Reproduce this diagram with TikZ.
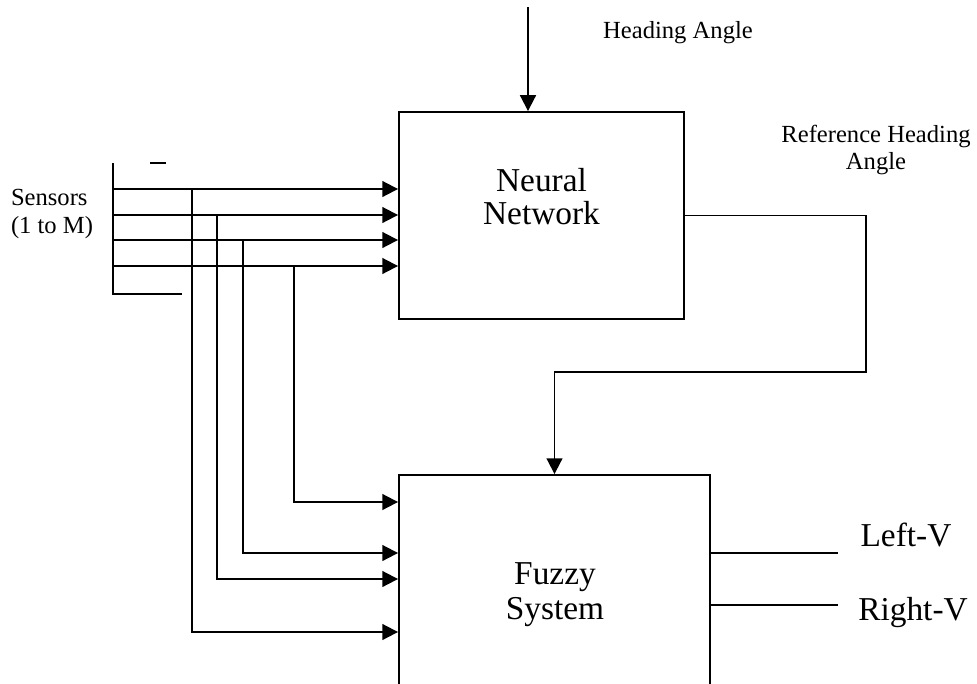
\documentclass[tikz,border=0pt]{standalone}
\usepackage{fontspec}
\setmainfont{Liberation Serif}
\usetikzlibrary{arrows.meta}

\tikzset{
	block/.style={draw, line width=1.1pt, rectangle, inner sep=0pt},
	wire/.style={line width=1.1pt},
	sig/.style={wire, -{Triangle[length=9pt,width=9pt]}},
	smalltxt/.style={font=\fontsize{14}{16}\selectfont, align=center, inner sep=0pt},
	bigtxt/.style={font=\fontsize{19}{19}\selectfont, align=center, inner sep=0pt}
}

\begin{document}
\begin{tikzpicture}[x=0.02cm, y=-0.02cm]

	\clip (0,0) rectangle (977,683);
	\useasboundingbox (0,0) rectangle (977,683);

	\node[block, minimum width=5.7cm, minimum height=4.14cm] (nn) at (541.5,215.5) {};
	\node[bigtxt] (nnlabel) at (541.5,196.5) {Neural\\Network};
	\node[block, minimum width=6.22cm, minimum height=5.8cm] (fz) at (554.5,620) {};
	\node[bigtxt, font=\fontsize{19}{20}\selectfont] (fzlabel) at (555,594.5) {Fuzzy\\System};

	\coordinate (hd) at (528,7);
	\draw[sig] (hd) -- (hd |- nn.north);
	\node[smalltxt] (hdlabel) at (678,33) {Heading Angle};

	\coordinate (turn) at (866,372);
	\draw[sig] (nn.east) -| (turn) -| (fz.north);
	\node[smalltxt, font=\fontsize{14}{15}\selectfont] (reflabel) at (876,150) {Reference Heading\\Angle};

	\node[smalltxt, align=left, font=\fontsize{14}{15.5}\selectfont] (sensors) at (52,214) {Sensors\\(1 to M)};

	\coordinate (bustop) at (113,163);
	\coordinate (busbot) at (113,294);
	\draw[wire] (bustop) -- (busbot) -- (182,294);
	\draw[wire] (150,163) -- (166,163);

	\foreach \y/\x/\t [count=\i] in {189/192/632, 215/217/579, 240/243/553, 266/294/502} {
		\coordinate (s\i) at (113,\y);
		\coordinate (t\i) at (\x,\y);
		\coordinate (u\i) at (\x,\t);
		\draw[sig] (s\i) -- (s\i -| nn.west);
		\draw[sig] (t\i) -- (u\i) -- (u\i -| fz.west);
	}

	\coordinate (lv) at (838,553);
	\coordinate (rv) at (838,605);
	\draw[wire] (lv -| fz.east) -- (lv);
	\draw[wire] (rv -| fz.east) -- (rv);
	\node[bigtxt] (lvlabel) at (906,535) {Left-V};
	\node[bigtxt] (rvlabel) at (913,613) {Right-V};

\end{tikzpicture}
\end{document}
